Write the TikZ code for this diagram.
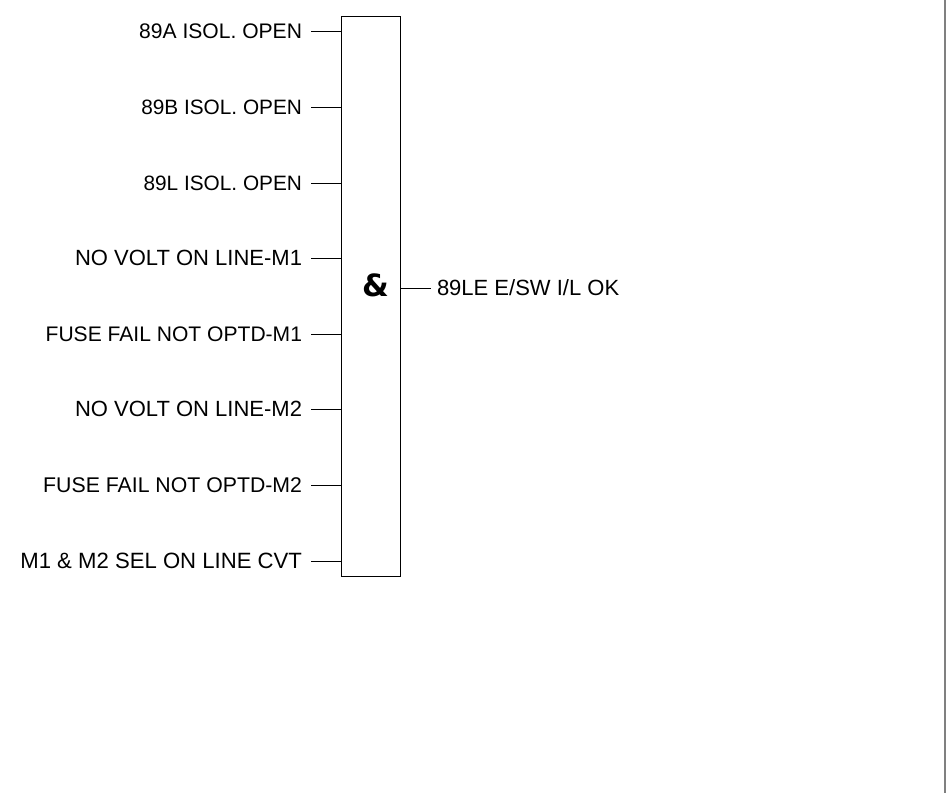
\documentclass[tikz,border=0pt]{standalone}
\usepackage{fontspec}
\setmainfont{Liberation Sans}
\newfontfamily\gatefont{DejaVu Sans}
\tikzset{
  siglabel/.style={inner sep=0pt,outer sep=0pt,font={\fontsize{#1}{18pt}\selectfont}},
  siglabel/.default=16.5pt,
  sigline/.style={line width=0.75pt,black}
}
\begin{document}
\begin{tikzpicture}[x=0.75pt,y=-0.75pt]
        \useasboundingbox (0,0) rectangle (951,793);
        \draw [line width=1.5pt,color=gray] (945.2,0)-- (945.2,793);
        \node [draw,line width=0.75pt,minimum width=44.6pt,minimum height=420pt,inner sep=0pt,anchor=north west] (gate) at (341,16) {};
        \node [inner sep=0pt,font=\gatefont\bfseries\fontsize{23pt}{25pt}\selectfont] (gatesym) at (376,285.5) {\&};
        \node [siglabel=15.8pt,anchor=east] (isolA) at (302,31) {89A ISOL. OPEN};
        \node [siglabel=15.6pt,anchor=east] (isolB) at (302,107) {89B ISOL. OPEN};
        \node [siglabel=15.6pt,anchor=east] (isolL) at (302,183) {89L ISOL. OPEN};
        \node [siglabel,anchor=east] (voltA) at (302,258) {NO VOLT ON LINE-M1};
        \node [siglabel=15.8pt,anchor=east] (fuseA) at (302,334) {FUSE FAIL NOT OPTD-M1};
        \node [siglabel,anchor=east] (voltB) at (302,409) {NO VOLT ON LINE-M2};
        \node [siglabel=15.95pt,anchor=east] (fuseB) at (302,485) {FUSE FAIL NOT OPTD-M2};
        \node [siglabel=16.6pt,anchor=east] (sel) at (302,561) {M1 \& M2 SEL ON LINE CVT};
        \node [siglabel,anchor=west] (out) at (437,288) {89LE E/SW I/L OK};
        \foreach \n in {isolA,isolB,isolL,voltA,fuseA,voltB,fuseB,sel}
            \draw [sigline] ([xshift=6.75pt]\n.east)-- (\n.east -| gate.west);
        \draw [sigline] (out.west -| gate.east)-- ([xshift=-4.5pt]out.west);
    \end{tikzpicture}
\end{document}
